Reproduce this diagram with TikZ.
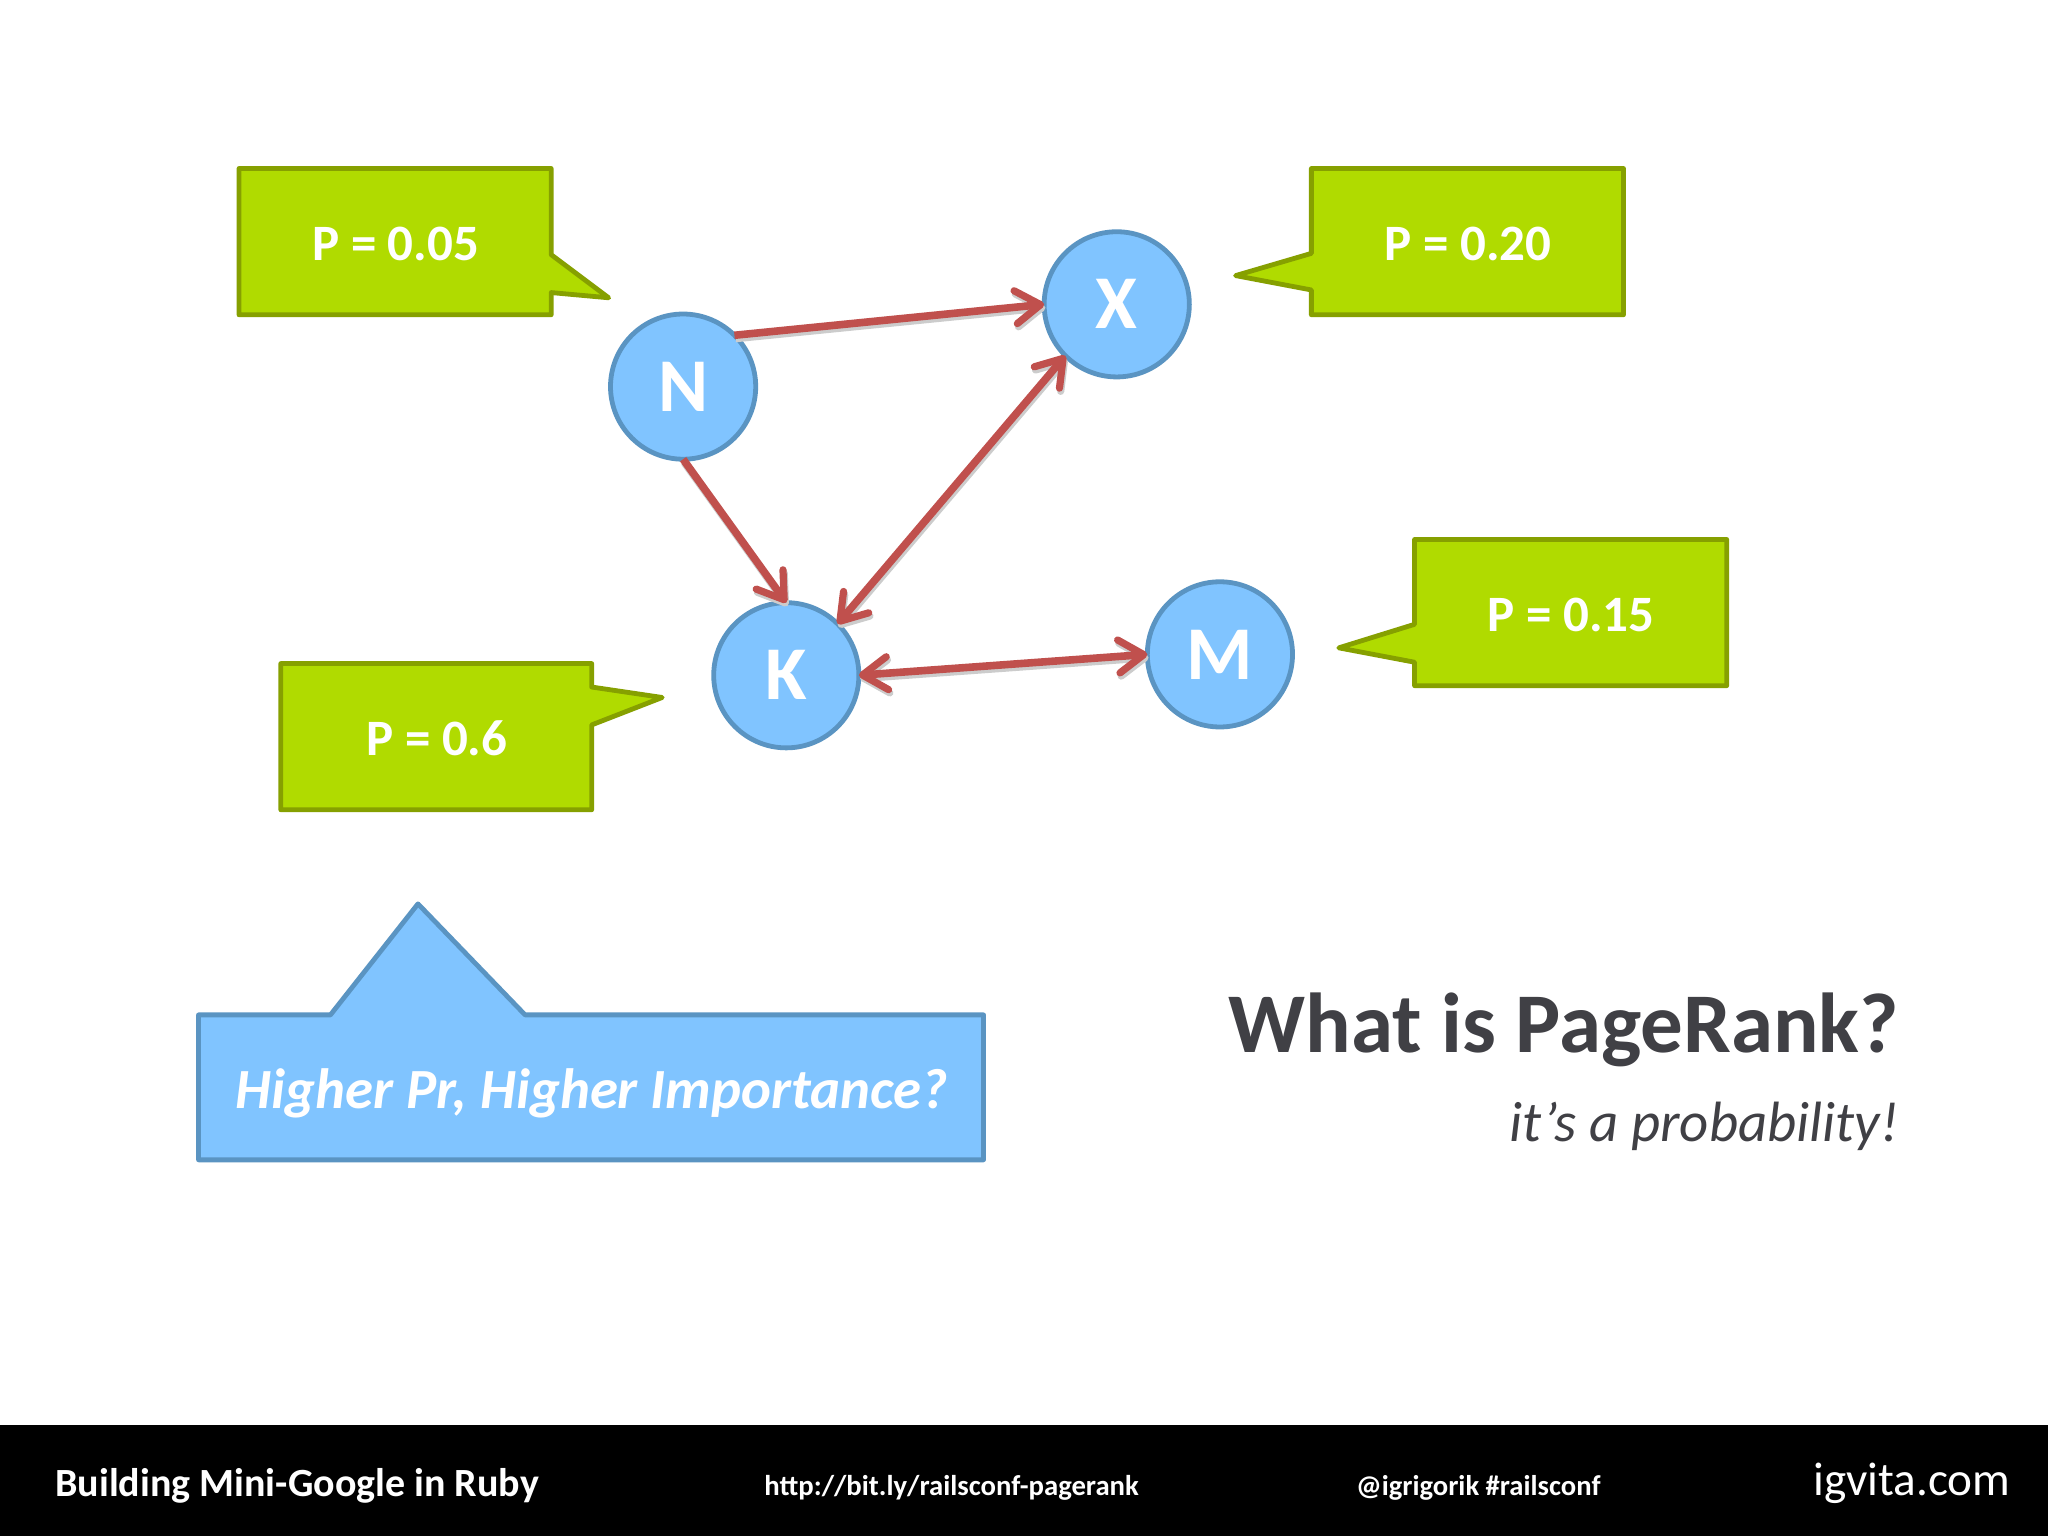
\documentclass[tikz,border=0pt]{standalone}
\usepackage{fontspec}
\setmainfont{Carlito}
\usetikzlibrary{arrows.meta}
\definecolor{lime}{HTML}{B0DB00}
\definecolor{limeline}{HTML}{86A000}
\definecolor{sky}{HTML}{80C4FF}
\definecolor{skyline}{HTML}{5A94C2}
\definecolor{arrowred}{HTML}{C0504D}
\definecolor{titlegrey}{HTML}{404045}
\tikzset{
  x=0.65306pt,y=-0.65306pt,
  greenbox/.style={draw=limeline,fill=lime,line width=2.4pt,line join=round},
  bluebox/.style={draw=skyline,fill=sky,line width=2.4pt,line join=round},
  gnode/.style={circle,draw=skyline,fill=sky,line width=2.4pt,minimum size=72.6pt,inner sep=0pt,outer sep=0pt,text=white,font=\fontsize{38}{38}\selectfont\bfseries},
  ptext/.style={text=white,font=\fontsize{25.5}{26}\selectfont\bfseries,inner sep=0pt},
  barb/.tip={Straight Barb[length=12.5pt,width=16.5pt,line width=3.6pt,round]},
  wire/.style={draw=arrowred,line width=3.8pt,
    preaction={draw=black!20,line width=3.8pt,transform canvas={shift={(0.6pt,-1.6pt)}}}},
  link/.style={wire,barb-barb},
  oneway/.style={wire,-barb},
  foot/.style={text=white,inner sep=0pt,anchor=base west},
}
\begin{document}
\begin{tikzpicture}
\useasboundingbox (0,0) rectangle (1568,1176);
\fill[white] (0,0) rectangle (1568,1176);
\fill[black] (0,1091) rectangle (1568,1176);
% callouts
\draw[greenbox] (183,129) -- (422,129) -- (422,195) -- (466,228) -- (422,224) -- (422,241) -- (183,241) -- cycle;
\draw[greenbox] (1004,129) -- (1243,129) -- (1243,241) -- (1004,241) -- (1004,222) -- (946,211) -- (1004,194) -- cycle;
\draw[greenbox] (1083,413) -- (1322,413) -- (1322,525) -- (1083,525) -- (1083,507) -- (1025,496) -- (1083,478) -- cycle;
\draw[greenbox] (215,508) -- (453,508) -- (453,526) -- (507,534) -- (453,555) -- (453,620) -- (215,620) -- cycle;
\draw[bluebox] (152,777) -- (253,777) -- (320,692) -- (402,777) -- (753,777) -- (753,888) -- (152,888) -- cycle;
\node[ptext] (pn) at (303,186.5) {P = 0.05};
\node[ptext] (px) at (1124,186.5) {P = 0.20};
\node[ptext] (pm) at (1203,470.5) {P = 0.15};
\node[ptext] (pk) at (334.5,565) {P = 0.6};
\node[text=white,inner sep=0pt,font=\fontsize{28.4}{30}\selectfont\bfseries\itshape] (hint) at (453,837) {Higher Pr, Higher Importance?};
% graph
\node[gnode] (N) at (523,296) {N};
\node[gnode] (X) at (855,233) {X};
\node[gnode] (K) at (602,517) {K};
\node[gnode] (M) at (934,501) {M};
\draw[oneway] (N.45) -- (X.west);
\draw[oneway] (N.south) -- (K.north);
\draw[link] (X.225) -- (K.45);
\draw[link] (K.east) -- (M.west);
% title
\node[text=titlegrey,inner sep=0pt,anchor=base east,font=\fontsize{42.5}{42}\selectfont\bfseries] (title) at (1454,806) {What is PageRank?};
\node[text=titlegrey,inner sep=0pt,anchor=base east,font=\fontsize{28.4}{28}\selectfont\itshape] (sub) at (1454,874) {it’s a probability!};
% footer
\node[foot,font=\fontsize{20}{20}\selectfont\bfseries] (f1) at (42,1146) {Building Mini-Google in Ruby};
\node[foot,font=\fontsize{14.35}{15}\selectfont\bfseries] (f2) at (585,1145) {http://bit.ly/railsconf-pagerank};
\node[foot,font=\fontsize{14.3}{15}\selectfont\bfseries] (f3) at (1038,1145) {@igrigorik \#railsconf};
\node[foot,font=\fontsize{23.6}{24}\selectfont] (f4) at (1388,1145) {igvita.com};
\end{tikzpicture}
\end{document}
